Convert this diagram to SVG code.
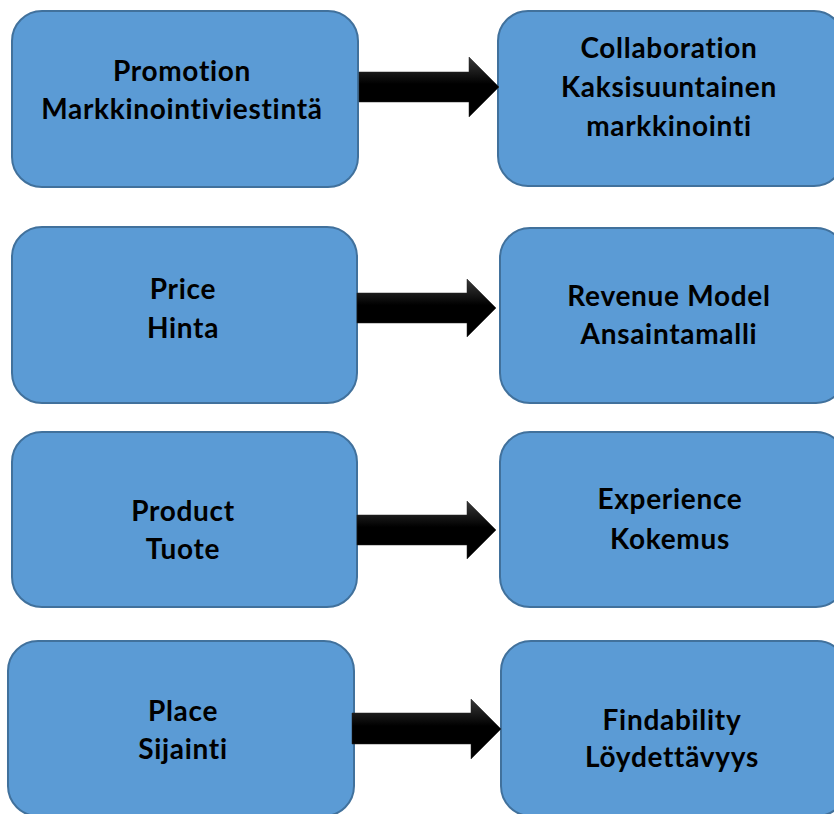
<svg xmlns="http://www.w3.org/2000/svg" width="834" height="814" viewBox="0 0 834 814">
<defs>
<linearGradient id="ag" x1="0" y1="0" x2="0" y2="1">
<stop offset="0" stop-color="#3a3a3a"/>
<stop offset="0.45" stop-color="#000"/>
<stop offset="1" stop-color="#000"/>
</linearGradient>
</defs>
<style>
.box{fill:#5B9BD5;stroke:#41719C;stroke-width:2}
.t{font-family:Lato,"Open Sans","Liberation Sans",sans-serif;font-weight:700;font-size:28px;letter-spacing:0.7px;font-variant-ligatures:none;fill:#000;text-anchor:middle}
.arr{fill:url(#ag);stroke:#222;stroke-width:0.5}
</style>
<rect width="834" height="814" fill="#fff"/>
<g id="promotion"><rect class="box" x="12" y="11" width="346" height="176" rx="30"/><text class="t" x="182" y="81">Promotion</text><text class="t" x="182" y="119">Markkinointiviestintä</text></g>
<g id="collaboration"><rect class="box" x="498" y="11" width="346" height="175" rx="30"/><text class="t" x="669" y="58">Collaboration</text><text class="t" x="669" y="97">Kaksisuuntainen</text><text class="t" x="669" y="136">markkinointi</text></g>
<g id="price"><rect class="box" x="12" y="227" width="345" height="176" rx="30"/><text class="t" x="183" y="299">Price</text><text class="t" x="183" y="338">Hinta</text></g>
<g id="revenue"><rect class="box" x="500" y="228" width="346" height="175" rx="30"/><text class="t" x="669" y="306">Revenue Model</text><text class="t" x="669" y="344">Ansaintamalli</text></g>
<g id="product"><rect class="box" x="12" y="432" width="345" height="175" rx="30"/><text class="t" x="183" y="521">Product</text><text class="t" x="183" y="559">Tuote</text></g>
<g id="experience"><rect class="box" x="500" y="432" width="346" height="175" rx="30"/><text class="t" x="670" y="509">Experience</text><text class="t" x="670" y="549">Kokemus</text></g>
<g id="place"><rect class="box" x="8" y="641" width="346" height="175" rx="30"/><text class="t" x="183" y="721">Place</text><text class="t" x="183" y="759">Sijainti</text></g>
<g id="findability"><rect class="box" x="501" y="641" width="346" height="175" rx="30"/><text class="t" x="672" y="730">Findability</text><text class="t" x="672" y="767">Löydettävyys</text></g>
<g id="connectors">
<polygon class="arr" points="359,72 469,72 469,57 499,87 469,117 469,102 359,102"/>
<polygon class="arr" points="357,293 467,293 467,279 496,308 467,337 467,323 357,323"/>
<polygon class="arr" points="357,515 467,515 467,501 496,530 467,559 467,545 357,545"/>
<polygon class="arr" points="352,713 471,713 471,699 501,729 471,759 471,744 352,744"/>
</g>
</svg>
